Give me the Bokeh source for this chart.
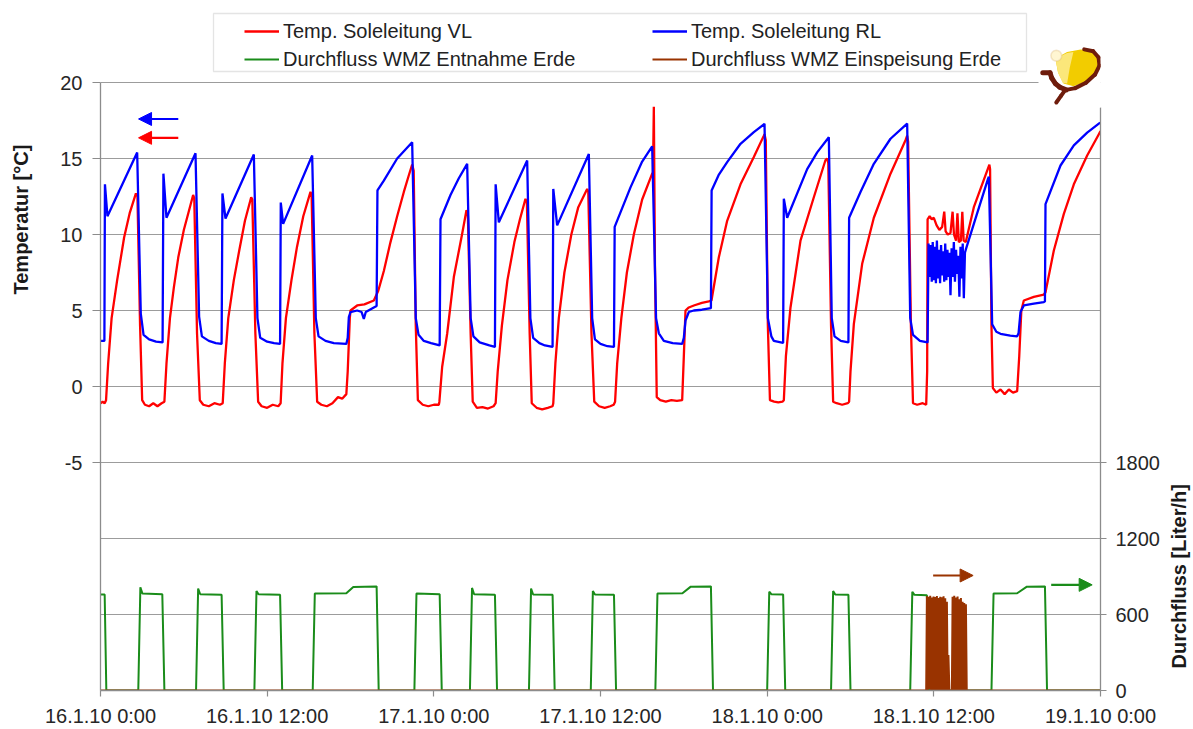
from bokeh.plotting import figure
from bokeh.layouts import row
from bokeh.models import (Range1d, LinearAxis, FixedTicker, Legend, LegendItem, Title,
                          Arrow, NormalHead, BoxAnnotation, PolyAnnotation)
from bokeh.embed import file_html
from bokeh.resources import INLINE
import math

FONT = "Liberation Sans"

# ---------------- data ----------------
x_ticks = [0, 12, 24, 36, 48, 60, 72]
x_tick_labels = ["16.1.10 0:00", "16.1.10 12:00", "17.1.10 0:00", "17.1.10 12:00",
                 "18.1.10 0:00", "18.1.10 12:00", "19.1.10 0:00"]
temp_ticks = [-5, 0, 5, 10, 15, 20]
grid_ticks = [-20, -15, -10, -5, 0, 5, 10, 15, 20]
flow_ticks = [0, 600, 1200, 1800]

# Temp. Soleleitung VL  (hours since 16.1.10 0:00, degC)
vl_hours = [0.0, 0.15, 0.3, 0.4, 0.55, 0.8, 1.2, 1.7, 2.1, 2.55,
            2.66, 2.85, 3.0, 3.2, 3.5, 3.8, 4.1, 4.4,
            4.6, 4.75, 5.0, 5.28, 5.6, 6.0, 6.35, 6.67,
            6.75, 6.95, 7.15, 7.4, 7.8, 8.2, 8.6,
            8.8, 8.95, 9.2, 9.6, 10.0, 10.4, 10.85,
            10.93, 11.15, 11.35, 11.6, 12.0, 12.4, 12.8,
            12.97, 13.1, 13.35, 13.75, 14.15, 14.6, 15.12,
            15.2, 15.4, 15.6, 15.9, 16.3, 16.7, 17.1, 17.4, 17.7,
            17.8, 17.95, 18.0, 18.48, 19.0, 19.68, 20.0, 20.4, 20.88, 21.36, 21.84, 22.2, 22.44,
            22.55, 22.7, 22.85, 23.2, 23.6, 24.0, 24.36,
            24.4, 24.6, 24.96, 25.44, 26.04, 26.35,
            26.45, 26.65, 26.8, 27.1, 27.5, 27.9, 28.3,
            28.45, 28.6, 28.9, 29.3, 29.8, 30.2, 30.6,
            30.7, 30.9, 31.05, 31.4, 31.8, 32.2, 32.55,
            32.6, 32.75, 33.0, 33.4, 33.9, 34.4, 35.04,
            35.12, 35.35, 35.55, 35.9, 36.3, 36.7, 36.95,
            37.05, 37.2, 37.5, 37.9, 38.4, 39.0, 39.72, 39.78, 39.84, 39.92, 40.05,
            40.3, 40.7, 41.1, 41.5, 41.88,
            42.0, 42.12, 42.36, 42.72, 43.3, 43.8, 43.99, 44.52, 45.12, 46.08, 47.04, 47.76, 47.81,
            47.9, 48.05, 48.2, 48.5, 48.8, 49.1,
            49.2, 49.35, 49.68, 50.4, 51.36, 52.2, 52.32,
            52.4, 52.6, 52.75, 53.0, 53.4, 53.8,
            53.9, 54.0, 54.24, 54.84, 55.68, 56.88, 57.96, 58.08,
            58.15, 58.35, 58.5, 58.8, 59.2, 59.45,
            59.52, 59.55, 59.7, 59.85, 60.0, 60.2, 60.4, 60.6, 60.75, 60.85, 61.0, 61.2,
            61.35, 61.45, 61.6, 61.7, 61.8, 61.95, 62.05, 62.15, 62.3, 62.88, 63.96, 64.0,
            64.05, 64.15, 64.25, 64.5, 64.8, 65.1, 65.4, 65.7, 66.0,
            66.15, 66.3, 66.48, 67.2, 67.92, 68.04, 68.64, 69.36, 70.08, 71.04, 71.88, 72.0]
vl_temp = [-1.1, -1.0, -1.1, -0.9, 1.5, 4.5, 7.0, 9.8, 11.4, 12.7,
           12.5, 4.0, -0.9, -1.2, -1.3, -1.1, -1.3, -1.1,
           -1.0, 1.5, 4.5, 6.5, 8.5, 10.3, 11.5, 12.6,
           12.4, 3.5, -0.9, -1.2, -1.3, -1.1, -1.2,
           -1.1, 1.5, 4.5, 7.0, 9.0, 10.9, 12.45,
           12.3, 3.5, -1.0, -1.3, -1.4, -1.2, -1.3,
           -1.1, 1.5, 4.5, 7.0, 9.2, 11.2, 12.8,
           12.6, 3.5, -1.0, -1.2, -1.3, -1.1, -0.7, -0.8, -0.5,
           1.0, 4.5, 5.0, 5.33, 5.4, 5.66, 6.3, 7.6, 9.5, 11.2, 12.8, 13.9, 14.6,
           14.2, 4.0, -0.9, -1.2, -1.3, -1.2, -1.2,
           -1.0, 1.3, 3.47, 7.2, 10.05, 11.6,
           11.3, 3.5, -1.0, -1.4, -1.35, -1.45, -1.3,
           -1.1, 1.0, 4.0, 7.0, 9.5, 11.0, 12.35,
           12.1, 3.5, -1.1, -1.4, -1.5, -1.4, -1.3,
           -1.1, 1.5, 4.5, 7.5, 10.0, 11.8, 13.0,
           12.8, 3.5, -1.0, -1.3, -1.4, -1.3, -1.2,
           -1.0, 1.5, 4.5, 7.5, 10.0, 12.3, 14.0, 14.1, 18.4, 8.0, -0.7,
           -0.9, -1.0, -0.9, -0.95, -0.9,
           2.0, 5.0, 5.2, 5.33, 5.5, 5.6, 5.66, 8.5, 10.9, 13.3, 15.1, 16.5, 16.6,
           16.2, 4.0, -0.9, -1.0, -1.05, -1.0,
           -0.9, 2.0, 5.2, 9.6, 12.45, 14.9, 15.0,
           14.7, 4.0, -1.0, -1.1, -1.2, -1.1,
           -1.0, 1.0, 4.1, 8.07, 11.1, 14.0, 16.2, 16.5,
           16.1, 4.0, -1.1, -1.2, -1.1, -1.2,
           1.0, 11.0, 11.2, 11.0, 11.1, 10.6, 10.3, 10.5, 11.5, 10.2, 10.0, 10.1,
           11.5, 10.0, 9.6, 11.4, 9.5, 9.6, 11.5, 9.6, 9.5, 11.8, 14.5, 14.6,
           14.3, 4.0, -0.1, -0.4, -0.2, -0.5, -0.2, -0.4, -0.3,
           2.0, 5.0, 5.66, 5.9, 6.05, 6.2, 8.95, 11.36, 13.3, 15.2, 16.6, 16.8]

# Temp. Soleleitung RL
rl_hours = [0.0, 0.28, 0.32, 0.5, 2.64,
            2.9, 3.1, 3.5, 4.0, 4.47,
            4.53, 4.75, 6.84,
            7.1, 7.3, 7.8, 8.3, 8.72,
            8.78, 9.0, 11.04,
            11.3, 11.5, 12.0, 12.5, 12.93,
            12.98, 13.15, 15.24,
            15.5, 15.7, 16.2, 16.8, 17.7,
            17.8, 17.88, 18.0, 18.48, 18.8, 18.96, 19.1, 19.68, 19.88,
            19.94, 20.4, 21.36, 22.44,
            22.7, 22.9, 23.28, 23.8, 24.42,
            24.48, 25.2, 25.8, 26.4,
            26.65, 26.85, 27.3, 28.0, 28.4,
            28.45, 28.68, 30.72,
            30.95, 31.15, 31.6, 32.0, 32.55,
            32.6, 32.88, 35.16,
            35.4, 35.6, 36.0, 36.5, 36.97,
            37.02, 38.16, 39.0, 39.72,
            40.0, 40.2, 40.56, 41.2, 41.88,
            42.0, 42.12, 42.36, 42.72, 43.3, 43.95,
            44.0, 44.5, 45.12, 46.08, 47.04, 47.81,
            48.05, 48.3, 48.48, 49.15,
            49.2, 49.44, 50.88, 51.6, 52.44,
            52.65, 52.85, 53.3, 53.85,
            53.9, 54.72, 55.68, 56.88, 58.08,
            58.3, 58.5, 59.0, 59.55,
            59.62, 59.7, 59.78, 59.85, 59.92, 60.0, 60.08, 60.15, 60.22, 60.3, 60.38, 60.45,
            60.52, 60.6, 60.68, 60.75, 60.82, 60.9, 60.98, 61.05, 61.12, 61.2, 61.28, 61.36,
            61.44, 61.52, 61.6, 61.68, 61.76, 61.84, 61.92, 62.0, 62.08, 62.16, 62.24, 62.3,
            62.88, 63.9, 63.96,
            64.2, 64.5, 64.8, 65.5, 66.0,
            66.1, 66.24, 66.48, 67.2, 67.92, 68.0,
            68.04, 69.12, 70.08, 71.04, 71.88, 72.0]
rl_temp = [3.0, 3.0, 13.3, 11.2, 15.4,
           4.8, 3.4, 3.1, 2.95, 2.9,
           14.0, 11.1, 15.35,
           4.6, 3.3, 3.0, 2.85, 2.8,
           12.7, 11.05, 15.26,
           4.5, 3.2, 2.95, 2.85, 2.8,
           12.1, 10.7, 15.2,
           4.5, 3.3, 3.0, 2.85, 2.8,
           3.2, 4.56, 4.9, 5.0, 4.9, 4.45, 4.9, 5.2, 5.3,
           12.9, 13.55, 15.0, 16.07,
           4.5, 3.4, 3.0, 2.85, 2.7,
           11.0, 12.6, 13.7, 14.65,
           4.5, 3.3, 2.9, 2.7, 2.6,
           13.3, 10.8, 14.87,
           4.5, 3.2, 2.85, 2.7, 2.6,
           13.0, 10.6, 15.3,
           4.5, 3.1, 2.8, 2.65, 2.6,
           10.5, 13.1, 14.8, 15.8,
           4.5, 3.5, 3.0, 2.85, 2.8,
           3.2, 4.34, 4.9, 5.0, 5.05, 5.15,
           12.9, 13.9, 14.76, 15.97, 16.73, 17.28,
           4.5, 3.3, 3.0, 2.87,
           12.35, 11.1, 14.3, 15.4, 16.4,
           4.5, 3.3, 3.0, 2.9,
           11.1, 12.8, 14.65, 16.3, 17.3,
           4.5, 3.4, 3.0, 2.9,
           9.4, 7.2, 9.3, 6.9, 9.5, 7.0, 9.2, 6.8, 9.6, 7.1, 9.0, 6.8,
           9.3, 7.3, 8.9, 6.9, 9.4, 7.0, 9.0, 7.2, 8.8, 6.0, 9.1, 7.2,
           9.5, 6.9, 9.0, 7.4, 8.6, 5.9, 9.2, 7.1, 9.4, 5.8, 8.8, 9.0,
           10.7, 13.66, 13.8,
           4.1, 3.6, 3.47, 3.35, 3.3,
           3.5, 4.9, 5.33, 5.45, 5.55, 5.6,
           12.0, 14.54, 15.86, 16.7, 17.3, 17.35]

# Durchfluss WMZ Entnahme Erde (Liter/h)
ent_hours = [0.0, 0.3, 0.42,
             2.72, 2.87, 3.02, 4.45, 4.6,
             6.88, 7.03, 7.18, 8.72, 8.87,
             11.08, 11.23, 11.38, 12.93, 13.08,
             15.28, 15.43, 17.7, 18.2, 19.88, 20.03,
             22.6, 22.75, 24.42, 24.57,
             26.6, 26.75, 26.9, 28.4, 28.55,
             30.85, 31.0, 31.15, 32.55, 32.7,
             35.3, 35.45, 35.6, 36.97, 37.12,
             39.95, 40.1, 41.9, 42.5, 43.95, 44.1,
             48.0, 48.15, 48.3, 49.15, 49.3,
             52.6, 52.75, 52.9, 53.85, 54.0,
             58.3, 58.45, 58.6, 59.5, 59.65,
             64.15, 64.3, 66.0, 66.7, 68.0, 68.15,
             72.0]
ent_flow = [758, 758, 0,
            0, 815, 765, 760, 0,
            0, 805, 760, 755, 0,
            0, 785, 760, 755, 0,
            0, 765, 768, 818, 822, 0,
            0, 765, 760, 0,
            0, 810, 760, 755, 0,
            0, 805, 758, 755, 0,
            0, 785, 758, 755, 0,
            0, 765, 768, 820, 822, 0,
            0, 780, 760, 758, 0,
            0, 785, 758, 755, 0,
            0, 780, 755, 752, 0,
            0, 765, 768, 820, 822, 0,
            0]

# Durchfluss WMZ Einspeisung Erde (Liter/h)
ein_hours = [0.0, 59.45, 59.5, 59.56, 59.62, 59.68, 59.74, 59.8, 59.86, 59.92, 59.98, 60.04, 60.1,
             60.16, 60.22, 60.28, 60.34, 60.4, 60.46, 60.52, 60.58, 60.64, 60.7, 60.76, 60.82,
             60.88, 60.94, 61.0, 61.05, 61.12,
             61.3, 61.35, 61.41, 61.47, 61.53, 61.59, 61.65, 61.71, 61.77, 61.83, 61.89, 61.95,
             62.01, 62.07, 62.13, 62.19, 62.25, 62.31, 62.37, 72.0]
ein_flow = [0, 0, 745, 0, 740, 10, 748, 0, 735, 0, 742, 0, 738,
            0, 745, 0, 730, 0, 740, 0, 736, 0, 744, 0, 728,
            0, 700, 0, 280, 0,
            0, 740, 0, 748, 0, 735, 0, 742, 0, 720, 0, 730,
            0, 700, 0, 690, 0, 680, 0, 0]

# ---------------- layout geometry ----------------
H = 729
X0 = 40                               # main figure starts here (left title figure before it)
X1 = 1165                             # main figure ends here (right title figure after it)
FL, FR, FT, FB = 100, 1100, 82, 690   # positions of the plot box in page pixels


def px2d(x, y):
    """page pixel -> (hours, degC) for decorations"""
    return ((x - FL) * 72.0 / (FR - FL), 20.0 - (y - FT) * 40.0 / (FB - FT))


def flow2t(f):
    return -20.0 + f * 40.0 / 4800.0


t_top = px2d(0, 0)[1]
flow_top = (t_top + 20.0) * 120.0
axis_top_flow = (px2d(0, 107)[1] + 20.0) * 120.0

p = figure(width=X1 - X0, height=H, x_range=Range1d(0, 72), y_range=Range1d(-20, t_top),
           output_backend="svg", toolbar_location=None, title=None,
           min_border_left=FL - X0, min_border_right=X1 - FR,
           min_border_top=0, min_border_bottom=H - FB)
p.extra_y_ranges = {"flow": Range1d(0, flow_top)}
p.outline_line_color = None
p.background_fill_color = "white"
p.border_fill_color = "white"
p.xgrid.visible = False
p.ygrid.ticker = FixedTicker(ticks=grid_ticks)
p.ygrid.grid_line_color = "#9c9c9c"
p.ygrid.grid_line_width = 1.2

AX = "#8c8c8c"


def style(ax, out, standoff):
    ax.axis_line_color = AX
    ax.axis_line_width = 1.3
    ax.major_tick_line_color = AX
    ax.major_tick_line_width = 1.2
    ax.major_tick_in = 0
    ax.major_tick_out = out
    ax.minor_tick_line_color = None
    ax.major_label_standoff = standoff
    ax.major_label_text_font = FONT
    ax.major_label_text_font_size = "20px"
    ax.major_label_text_color = "#262626"


xa = p.xaxis[0]
xa.ticker = FixedTicker(ticks=x_ticks)
xa.major_label_overrides = {t: s for t, s in zip(x_ticks, x_tick_labels)}
style(xa, 6, 8)

ya = p.yaxis[0]
ya.ticker = FixedTicker(ticks=temp_ticks)
ya.bounds = (-20, 20)
ya.major_label_overrides = {t: str(t) for t in temp_ticks}
style(ya, 8, 10)

ra = LinearAxis(y_range_name="flow", ticker=FixedTicker(ticks=flow_ticks),
                bounds=(0, axis_top_flow))
style(ra, 6, 9)
p.add_layout(ra, "right")

RED, BLUE, GREEN, BROWN = "#ff0000", "#0000ff", "#1a8c1a", "#993300"

r_vl = p.line(vl_hours, vl_temp, line_color=RED, line_width=2.3)
r_rl = p.line(rl_hours, rl_temp, line_color=BLUE, line_width=2.3)
r_ent = p.line(ent_hours, ent_flow, y_range_name="flow", line_color=GREEN, line_width=2.0)
r_ein = p.line(ein_hours, ein_flow, y_range_name="flow", line_color=BROWN, line_width=2.0)

# legend box
lx0, ly0 = px2d(213, 13)
lx1, ly1 = px2d(1026, 71)
p.add_layout(BoxAnnotation(left=lx0, right=lx1, top=ly0, bottom=ly1, fill_color="white",
                           fill_alpha=1.0, line_color="#a6a6a6", line_width=1.3))

legend = Legend(items=[LegendItem(label="Temp. Soleleitung VL", renderers=[r_vl]),
                       LegendItem(label="Temp. Soleleitung RL", renderers=[r_rl]),
                       LegendItem(label="Durchfluss WMZ Entnahme Erde", renderers=[r_ent]),
                       LegendItem(label="Durchfluss WMZ Einspeisung Erde", renderers=[r_ein])],
                location=(244 - FL, FB - 73), orientation="horizontal", ncols=2,
                glyph_width=35, glyph_height=28, label_height=28, label_width=369,
                label_standoff=4, spacing=0, padding=0, margin=0,
                border_line_color=None, background_fill_alpha=0.0,
                label_text_font=FONT, label_text_font_size="20px", label_text_color="#222222")
p.add_layout(legend)


# axis arrows
def add_arrow(x0, x1, y, color):
    p.add_layout(Arrow(end=NormalHead(size=13, fill_color=color, line_color=color),
                       x_start=x0, y_start=y, x_end=x1, y_end=y,
                       line_color=color, line_width=2.2))


add_arrow(5.6, 2.74, 17.6, BLUE)
add_arrow(5.6, 2.74, 16.36, RED)
add_arrow(59.95, 62.83, flow2t(908), BROWN)
add_arrow(68.45, 71.4, flow2t(834), GREEN)


# logo (decoration, top right, kept inside the plotting area)
def lp(x, y):
    return px2d(1099 - (1121 - x) * 0.9, 75 + (y - 75) * 0.9)


bx0, by0 = px2d(1038, 30)
bx1, by1 = px2d(1110, 107)
p.add_layout(BoxAnnotation(left=bx0, right=bx1, top=by0, bottom=by1, fill_color="white",
                           fill_alpha=1.0, line_color=None, level="overlay"))


def poly(pts, fill, line=None, lw=1):
    xs, ys = zip(*[lp(a, b) for a, b in pts])
    p.add_layout(PolyAnnotation(xs=list(xs), ys=list(ys), fill_color=fill, fill_alpha=1.0,
                                line_color=line, line_width=lw, level="overlay"))


def stroke(pts, color, lw):
    for (a0, b0), (a1, b1) in zip(pts[:-1], pts[1:]):
        x0, y0 = lp(a0, b0)
        x1, y1 = lp(a1, b1)
        p.add_layout(Arrow(start=None, end=None, x_start=x0, y_start=y0, x_end=x1, y_end=y1,
                           line_color=color, line_width=lw, line_cap="round", level="overlay"))


poly([(1072, 56), (1085, 49), (1100, 46), (1112, 47), (1119, 53), (1120, 62), (1116, 73),
      (1106, 82), (1092, 87), (1081, 84), (1075, 72)], "#f2cc00")
poly([(1072, 56), (1085, 50), (1092, 49), (1088, 66), (1085, 84), (1080, 83), (1075, 72)],
     "#fbe77a")
poly([(1073 + 6 * math.cos(a * math.pi / 8), 53 + 6 * math.sin(a * math.pi / 8)) for a in range(16)],
     "#fff6d2", "#d6b06a", 1.5)
stroke([(1104, 46), (1114, 48), (1120, 55), (1121, 64), (1116, 74), (1106, 83), (1094, 89),
        (1084, 91)], "#6e1c0c", 4)
stroke([(1058, 72), (1066, 72), (1068, 78), (1072, 84), (1077, 88), (1084, 91)], "#6e1c0c", 5)
stroke([(1083, 91), (1078, 98), (1073, 105)], "#6e1c0c", 4)


# ---------------- axis titles (narrow side figures) ----------------
def title_fig(width, border_left, text, offset):
    f = figure(width=width, height=H, output_backend="svg", toolbar_location=None, title=None,
               x_axis_type=None, y_axis_type=None, x_range=Range1d(0, 1), y_range=Range1d(0, 1),
               min_border_left=border_left, min_border_right=0, min_border_top=0,
               min_border_bottom=0)
    f.outline_line_color = None
    f.xgrid.visible = False
    f.ygrid.visible = False
    f.add_layout(Title(text=text, align="left", offset=offset, standoff=0,
                       text_font=FONT, text_font_size="20px", text_font_style="bold",
                       text_color="#1a1a1a"), "left")
    return f


p_left = title_fig(X0, X0 - 9, "Temperatur [°C]", 396)
p_right = title_fig(1193 - X1, 20, "Durchfluss [Liter/h]", 22)

open("out.html", "w").write(file_html(row(p_left, p, p_right), INLINE))
